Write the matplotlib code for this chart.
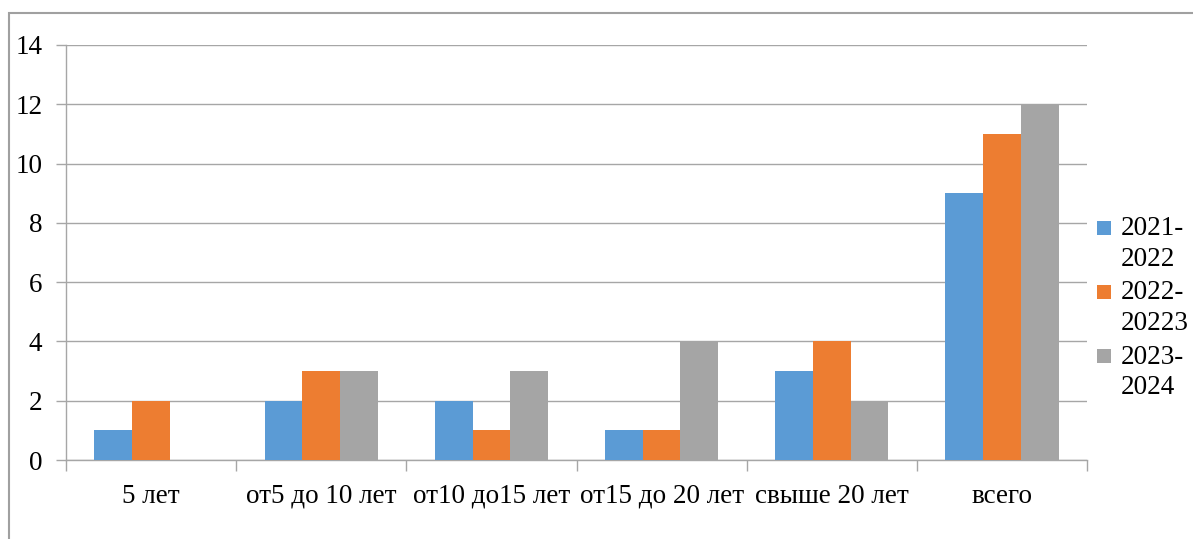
import numpy as np
import matplotlib
matplotlib.use("Agg")
import matplotlib.pyplot as plt
import matplotlib.patches as mpatches
from matplotlib.legend_handler import HandlerPatch

categories = ["5 лет", "от5 до 10 лет", "от10 до15 лет", "от15 до 20 лет", "свыше 20 лет", "всего"]
y2021 = [1, 2, 2, 1, 3, 9]
y2022 = [2, 3, 1, 1, 4, 11]
y2023 = [0, 3, 3, 4, 2, 12]
series_names = ["2021-\n2022", "2022-\n20223", "2023-\n2024"]
colors = ["#5B9BD5", "#ED7D31", "#A5A5A5"]

plt.rcParams['font.family'] = ['Liberation Serif', 'DejaVu Serif']
grey = "#A6A6A6"

fig = plt.figure(figsize=(11.93, 5.39), dpi=100)
ax = fig.add_axes([66 / 1193, 1 - 460 / 539, (1087 - 66) / 1193, (460 - 45) / 539])

x = np.arange(len(categories))
w = 1 / 4.5
bars = []
for k, vals in enumerate([y2021, y2022, y2023]):
    b = ax.bar(x + (k - 1) * w, vals, w, color=colors[k], label=series_names[k], zorder=3)
    bars.append(b)

ax.set_xlim(-0.5, len(categories) - 0.5)
ax.set_ylim(0, 14)
ax.set_yticks(range(0, 15, 2))
ax.set_xticks(x)
ax.set_xticklabels(categories)
ax.set_xticks(np.arange(len(categories) + 1) - 0.5, minor=True)
ax.tick_params(axis='x', which='major', length=0, pad=17, labelsize=19.5)
ax.tick_params(axis='x', which='minor', length=8, color=grey, width=1)
ax.tick_params(axis='y', length=7, color=grey, width=1, pad=10, labelsize=19.5)
ax.grid(axis='y', color=grey, linewidth=1, zorder=0)
for s in ['top', 'right']:
    ax.spines[s].set_visible(False)
for s in ['left', 'bottom']:
    ax.spines[s].set_color(grey)
    ax.spines[s].set_linewidth(1)


def top_square(legend, orig_handle, xdescent, ydescent, width, height, fontsize):
    s = 0.52 * fontsize
    return mpatches.Rectangle((-xdescent, -ydescent + height / 2 - s / 2 + 0.6 * fontsize), s, s)


leg = fig.legend(handles=[b[0] for b in bars], labels=series_names,
                 loc='upper left', bbox_to_anchor=(1097 / 1193, 1 - 216 / 539),
                 frameon=False, fontsize=19.5, handlelength=0.52, handleheight=0.6,
                 handletextpad=0.35, labelspacing=0.32, borderpad=0, borderaxespad=0,
                 handler_map={mpatches.Rectangle: HandlerPatch(patch_func=top_square)})
for t in leg.get_texts():
    t.set_linespacing(1.3)

# outer chart border
border = mpatches.Rectangle((9 / 1193, -0.1), 1.2, 1 - 13 / 539 + 0.1, transform=fig.transFigure,
                            fill=False, edgecolor="#A0A0A0", linewidth=1.5)
fig.patches.append(border)

fig.savefig("out.png", dpi=100)
